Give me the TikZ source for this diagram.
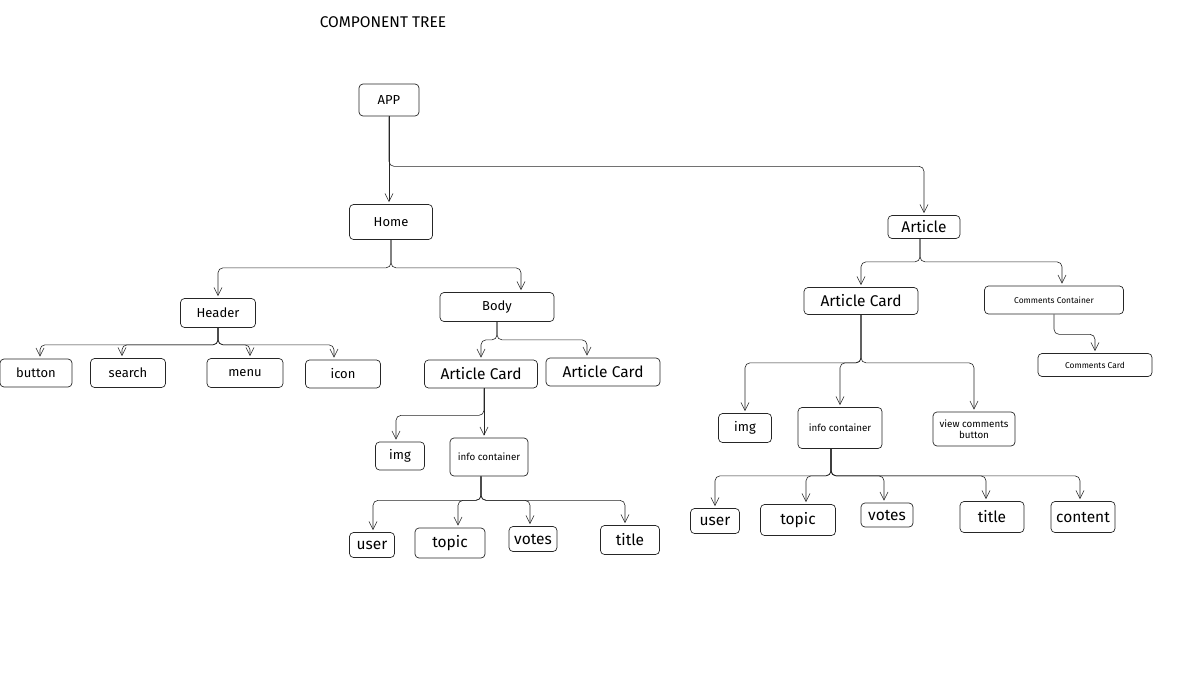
\documentclass[tikz,border=0pt]{standalone}
\usepackage{fontspec}
\setmainfont{Fira Sans}
\usetikzlibrary{positioning, arrows.meta}

\begin{document}
\begin{tikzpicture}
    [
        x=1pt, y=-1pt,
        tree_node/.style={draw=black!85, fill=white, rounded corners=4pt, line width=0.7pt, inner sep=0pt, font=\fontsize{13}{15}\selectfont},
        wh/.style 2 args={minimum width=#1, minimum height=#2},
        big_text/.style={font=\fontsize{15.5}{17}\selectfont},
        small_text/.style={font=\fontsize{9.8}{11.5}\selectfont},
        tiny_text/.style={font=\fontsize{8.4}{10}\selectfont},
        tree_edge/.style={-{Straight Barb[length=8pt, width=8pt]}, line width=0.6pt, color=black!85, rounded corners=5pt, shorten >=2pt},
    ]
        \useasboundingbox (0,0) rectangle (1190,677);
        \node[font=\fontsize{15.5}{17}\selectfont] (title) at (383,22) {COMPONENT TREE} ;
        % top levels
        \node[tree_node, wh={60}{32}] (app) at (389,100) {APP} ;
        \node[tree_node, wh={83}{35}] (home) at (391,222) {Home} ;
        \node[tree_node, big_text, wh={72}{23}] (article) at (924,227) {Article} ;
        \node[tree_node, wh={75}{29}] (header) at (218,313) {Header} ;
        \node[tree_node, wh={114}{29}] (body) at (497,307) {Body} ;
        % header children
        \node[tree_node, wh={72}{28}] (button) at (36,373) {button} ;
        \node[tree_node, wh={75}{29}] (search) at (128,373) {search} ;
        \node[tree_node, wh={76}{29}] (menu) at (245,373) {menu} ;
        \node[tree_node, wh={75}{28}] (icon) at (343,374) {icon} ;
        % body children
        \node[tree_node, big_text, wh={113}{28}] (card_l) at (481,374) {Article Card} ;
        \node[tree_node, big_text, wh={114}{28}] (card_m) at (603,372) {Article Card} ;
        \node[tree_node, wh={49}{28}] (img_l) at (400,456) {img} ;
        \node[tree_node, small_text, wh={78}{38}] (info_l) at (489,457) {info container} ;
        \node[tree_node, big_text, wh={45}{25}] (user_l) at (372,545) {user} ;
        \node[tree_node, big_text, wh={70}{30}] (topic_l) at (450,543) {topic} ;
        \node[tree_node, big_text, wh={48}{25}] (votes_l) at (533,539) {votes} ;
        \node[tree_node, big_text, wh={59}{29}] (title_l) at (630,540) {title} ;
        % article children
        \node[tree_node, big_text, wh={114}{27}] (card_r) at (861,301) {Article Card} ;
        \node[tree_node, tiny_text, wh={139}{28}] (comments) at (1054,300) {Comments Container} ;
        \node[tree_node, tiny_text, wh={114}{23}] (comment_card) at (1095,365) {Comments Card} ;
        \node[tree_node, wh={53}{29}] (img_r) at (745,428) {img} ;
        \node[tree_node, small_text, wh={84}{41}] (info_r) at (840,428) {info container} ;
        \node[tree_node, small_text, wh={82}{34}, align=center] (view_btn) at (974,429) {view comments\\button} ;
        \node[tree_node, big_text, wh={49}{25}] (user_r) at (715,521) {user} ;
        \node[tree_node, big_text, wh={75}{31}] (topic_r) at (798,520) {topic} ;
        \node[tree_node, big_text, wh={52}{24}] (votes_r) at (887,515) {votes} ;
        \node[tree_node, big_text, wh={64}{31}] (title_r) at (992,517) {title} ;
        \node[tree_node, big_text, wh={64}{31}] (content_r) at (1083,517) {content} ;
        % connectors
        \draw[tree_edge] (app.south) -- (app.south |- home.north) ;
        \draw[tree_edge] (app.south) -- ++(0,50) -| (article.north) ;
        \draw[tree_edge] (home.south) -- ++(0,28) -| (header.north) ;
        \draw[tree_edge] (home.south) -- ++(0,28) -| ([xshift=24pt]body.north) ;
        \foreach \child/\dx in {button/4, search/-6, menu/5, icon/-9}
            \draw[tree_edge] (header.south) -- ++(0,17) -| ([xshift=\dx pt]\child.north) ;
        \draw[tree_edge] (body.south) -- ++(0,18) -| (card_l.north) ;
        \draw[tree_edge] (body.south) -- ++(0,18) -| ([xshift=-16pt]card_m.north) ;
        \draw[tree_edge] ([xshift=3pt]card_l.south) -- ++(0,27) -| ([xshift=-4pt]img_l.north) ;
        \draw[tree_edge] ([xshift=3pt]card_l.south) -- ([xshift=3pt]card_l.south |- info_l.north) ;
        \foreach \child/\dx in {user_l/1, topic_l/8, votes_l/-3, title_l/-5}
            \draw[tree_edge] ([xshift=-8pt]info_l.south) -- ++(0,24) -| ([xshift=\dx pt]\child.north) ;
        \draw[tree_edge] ([xshift=-4pt]article.south) -- ++(0,23) -| (card_r.north) ;
        \draw[tree_edge] ([xshift=-4pt]article.south) -- ++(0,23) -| ([xshift=8pt]comments.north) ;
        \draw[tree_edge] (comments.south) -- ++(0,20) -| (comment_card.north) ;
        \foreach \child in {img_r, info_r, view_btn}
            \draw[tree_edge] (card_r.south) -- ++(0,48) -| (\child.north) ;
        \foreach \child/\dx in {user_r/0, topic_r/8, votes_r/-3, title_r/-6, content_r/-3}
            \draw[tree_edge] ([xshift=-9pt]info_r.south) -- ++(0,27) -| ([xshift=\dx pt]\child.north) ;
\end{tikzpicture}
\end{document}
